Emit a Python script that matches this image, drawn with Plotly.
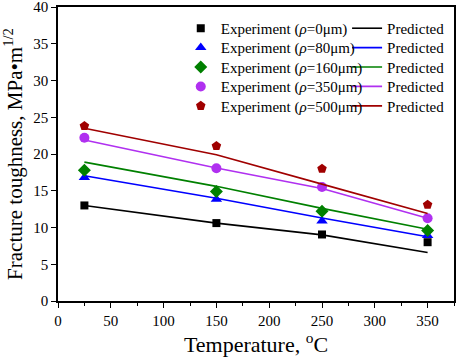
import plotly.graph_objects as go

temps = [25, 150, 250, 350]
series_names = ["0", "80", "160", "350", "500"]
exp_black = [13.0, 10.6, 9.05, 8.0]
exp_blue = [16.8, 13.85, 10.9, 8.9]
exp_green = [17.8, 14.9, 12.2, 9.6]
exp_purple = [22.2, 18.05, 15.5, 11.25]
exp_red = [23.8, 21.1, 18.0, 13.1]

pred_black = [13.0, 10.6, 9.0, 6.6]
pred_blue = [17.05, 13.97, 11.3, 8.75]
pred_green = [18.9, 15.6, 12.6, 9.75]
pred_purple = [21.9, 18.1, 15.3, 11.25]
pred_red = [23.5, 19.9, 15.9, 11.9]

colors = ["#000000", "#0000FF", "#008000", "#B030F0", "#A00000"]
symbols = ["square", "triangle-up", "diamond", "circle", "pentagon"]
msizes = [8, 10, 10, 10, 10]
exps = [exp_black, exp_blue, exp_green, exp_purple, exp_red]
preds = [pred_black, pred_blue, pred_green, pred_purple, pred_red]

FONT = "Liberation Serif"
fig = go.Figure()
legend_layout = {}
row_y = [0.927, 0.861, 0.795, 0.729, 0.663]
for i in range(5):
    le = "legend" if i == 0 else "legend%d" % (2 * i + 1)
    lp = "legend%d" % (2 * i + 2)
    fig.add_trace(go.Scatter(
        x=temps, y=preds[i], mode="lines", name="Predicted",
        line=dict(color=colors[i], width=1.6), legend=lp))
    fig.add_trace(go.Scatter(
        x=temps, y=exps[i], mode="markers",
        name="Experiment (<i>ρ</i>=%sμm)" % series_names[i],
        marker=dict(color=colors[i], symbol=symbols[i], size=msizes[i], line=dict(width=0)),
        legend=le))
    common = dict(yanchor="middle", xanchor="left", bgcolor="rgba(0,0,0,0)",
                  font=dict(family=FONT, size=15, color="black"), itemwidth=30,
                  borderwidth=0)
    legend_layout[le] = dict(x=0.31, y=row_y[i], **common)
    legend_layout[lp] = dict(x=0.73, y=row_y[i], **common)

axis_common = dict(showline=True, linecolor="black", linewidth=1.5, mirror=True,
                   ticks="outside", ticklen=5, tickwidth=1.3, tickcolor="black",
                   showgrid=False, zeroline=False,
                   ticklabeloverflow="allow",
                   tickfont=dict(family=FONT, size=15, color="black"))

fig.update_layout(
    width=457, height=357,
    margin=dict(l=58, r=3, t=7, b=56),
    plot_bgcolor="white", paper_bgcolor="white",
    font=dict(family=FONT, color="black"),
    xaxis=dict(range=[0, 375], tickmode="array", tickvals=list(range(0, 351, 50)),
               minor=dict(tickvals=list(range(25, 376, 50)), ticks="outside", ticklen=3,
                          tickwidth=1.3, tickcolor="black"),
               automargin=True,
               title=dict(text="Temperature, <sup>o</sup>C", font=dict(family=FONT, size=22), standoff=2),
               **axis_common),
    yaxis=dict(range=[0, 40], tickmode="array", tickvals=list(range(0, 41, 5)),
               automargin=False,
               title=dict(text="Fracture toughness, MPa•m<sup>1/2</sup>", font=dict(family=FONT, size=21)),
               **axis_common),
    showlegend=True,
    **legend_layout,
)

fig.write_html("out.html", config={"displayModeBar": False},
               post_script="document.body.style.margin='0';document.body.style.overflow='hidden';")
